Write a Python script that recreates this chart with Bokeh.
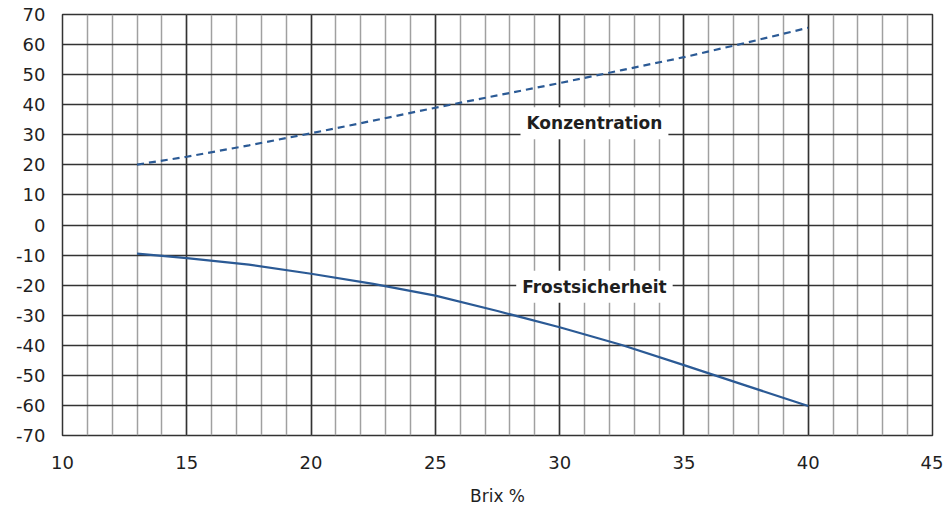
from bokeh.plotting import figure
from bokeh.models import Range1d, SingleIntervalTicker, Grid, Label, FixedTicker
from bokeh.embed import file_html
from bokeh.resources import INLINE

# Data
konz_brix = [13, 15, 17.5, 20, 22.5, 25, 27.5, 30, 32.5, 35, 37.5, 40]
konz_vals = [20.1, 22.7, 26.5, 30.5, 34.7, 39.0, 43.1, 47.2, 51.5, 55.8, 60.6, 65.6]
frost_brix = [13, 15, 17.5, 20, 22.5, 25, 27.5, 30, 32.5, 35, 37.5, 40]
frost_vals = [-9.5, -11.0, -13.2, -16.2, -19.6, -23.5, -28.6, -34.0, -39.9, -46.6, -53.4, -60.2]
x_ticks = [10, 15, 20, 25, 30, 35, 40, 45]
y_ticks = list(range(-70, 71, 10))
label_konz = "Konzentration"
label_frost = "Frostsicherheit"
x_title = "Brix %"

FONT = "DejaVu Sans"
LINE = "#2b5a95"
TXT = "#1f1f1f"

p = figure(width=943, height=513, output_backend="svg", toolbar_location=None,
           x_range=Range1d(10, 45), y_range=Range1d(-70, 70))
p.min_border_left = 62
p.min_border_right = 11
p.min_border_top = 14
p.min_border_bottom = 78
p.outline_line_color = "#333333"
p.outline_line_width = 1.5
p.background_fill_color = "white"

# axes
p.xaxis.ticker = FixedTicker(ticks=x_ticks)
p.yaxis.ticker = FixedTicker(ticks=y_ticks)
p.yaxis.major_label_overrides = {t: str(t) for t in y_ticks}
for ax in (p.xaxis[0], p.yaxis[0]):
    ax.axis_line_color = None
    ax.major_tick_line_color = None
    ax.minor_tick_line_color = None
    ax.major_tick_out = 0
    ax.major_tick_in = 0
    ax.major_label_text_font = FONT
    ax.major_label_text_font_size = "18px"
    ax.major_label_text_color = TXT
p.xaxis.major_label_standoff = 20
p.yaxis.major_label_standoff = 17
p.xaxis.axis_label = x_title
p.xaxis.axis_label_text_font = FONT
p.xaxis.axis_label_text_font_style = "normal"
p.xaxis.axis_label_text_font_size = "17px"
p.xaxis.axis_label_text_color = TXT
p.xaxis.axis_label_standoff = 14

# grids
p.xgrid.ticker = SingleIntervalTicker(interval=1)
p.xgrid.grid_line_color = "#a0a0a0"
p.xgrid.grid_line_width = 1.5
p.ygrid.ticker = FixedTicker(ticks=y_ticks)
p.ygrid.grid_line_color = "#333333"
p.ygrid.grid_line_width = 1.5
major_x = Grid(dimension=0, ticker=FixedTicker(ticks=x_ticks),
               grid_line_color="#333333", grid_line_width=1.5)
p.add_layout(major_x)

# lines
p.line(konz_brix, konz_vals, line_color=LINE, line_width=2.2, line_dash="7 5")
p.line(frost_brix, frost_vals, line_color=LINE, line_width=2.2)

# labels
p.add_layout(Label(x=31.4, y=33.8, text=label_konz, text_font=FONT, text_font_style="bold",
                   text_font_size="17px", text_color=TXT, text_align="center",
                   text_baseline="middle", background_fill_color="white",
                   border_line_color=None, padding=6))
p.add_layout(Label(x=31.4, y=-20.5, text=label_frost, text_font=FONT, text_font_style="bold",
                   text_font_size="17px", text_color=TXT, text_align="center",
                   text_baseline="middle", background_fill_color="white",
                   border_line_color=None, padding=6))

open("out.html", "w").write(file_html(p, INLINE))
